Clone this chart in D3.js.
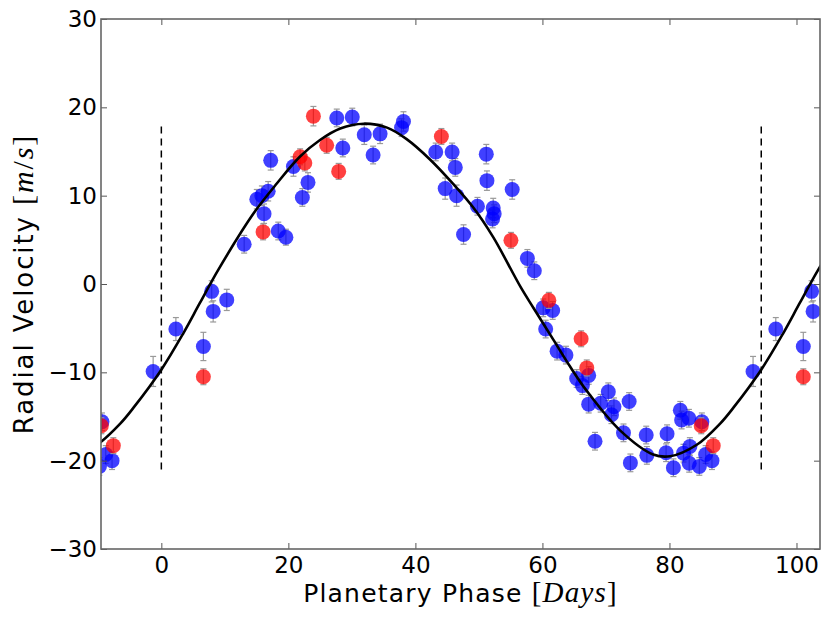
<!DOCTYPE html>
<html>
<head>
<meta charset="utf-8">
<script src="https://cdn.jsdelivr.net/npm/d3@7"></script>
<style>
  body { margin: 0; background: #fff; }
  svg text { font-family: "DejaVu Sans", sans-serif; }
</style>
</head>
<body>
<svg id="rv" width="830" height="621"></svg>
<script>
// orbital period used for folding (days)
const period = 94.45;

const xTicks = [0, 20, 40, 60, 80, 100];
const yTicks = [-30, -20, -10, 0, 10, 20, 30];

// blue points: [phase, rv, error]
const bluePts = [
  [2.29, -5.1, 1.3], [6.62, -7.07, 1.6], [7.93, -0.83, 1.2], [8.16, -3.1, 1.2],
  [10.30, -1.8, 1.2], [13.04, 4.5, 1.0], [15.03, 9.6, 1.1], [15.83, 10.0, 1.1],
  [16.82, 10.5, 1.1], [16.17, 7.96, 1.1], [17.22, 14.0, 1.1], [18.41, 6.0, 1.0],
  [19.61, 5.3, 0.9], [20.80, 13.3, 1.1], [22.20, 9.8, 1.0], [23.09, 11.5, 1.1],
  [27.62, 18.8, 1.0], [30.06, 18.9, 1.0], [28.57, 15.4, 1.0], [31.95, 16.9, 1.1],
  [34.44, 17.0, 1.1], [33.34, 14.6, 1.0], [38.12, 18.4, 1.1], [37.82, 17.7, 1.0],
  [43.20, 14.95, 1.0], [45.78, 14.95, 1.0], [46.28, 13.2, 1.0], [44.69, 10.8, 1.2],
  [46.48, 10.0, 1.2], [47.58, 5.6, 1.1], [49.77, 8.8, 1.0], [51.16, 14.7, 1.1],
  [51.26, 11.7, 1.1], [52.25, 8.6, 1.1], [52.40, 7.96, 1.0], [52.15, 7.36, 1.0],
  [55.24, 10.7, 1.1], [57.63, 2.9, 1.0], [58.72, 1.5, 1.0], [60.12, -2.7, 1.0],
  [61.61, -3.0, 1.0], [60.51, -5.1, 1.0], [62.31, -7.6, 1.0], [63.70, -8.05, 1.0],
  [67.28, -10.35, 1.0], [65.39, -10.7, 1.0], [66.29, -11.5, 1.0], [67.28, -13.6, 1.0],
  [68.28, -17.8, 1.0], [69.17, -13.5, 1.0], [70.37, -12.2, 1.0], [71.26, -13.9, 1.0],
  [70.87, -14.8, 1.0], [72.76, -16.85, 1.0], [73.65, -13.3, 1.0], [73.85, -20.25, 1.0],
  [76.34, -17.1, 1.0], [76.44, -19.4, 1.0], [79.62, -16.95, 1.0], [79.47, -19.1, 1.0],
  [80.62, -20.8, 1.0], [81.71, -14.3, 1.0], [81.91, -15.4, 1.0], [83.06, -15.2, 1.0],
  [82.21, -19.15, 1.0], [83.21, -18.4, 1.0], [83.11, -20.3, 1.0], [84.70, -20.65, 1.0],
  [85.10, -15.6, 1.0], [85.70, -19.3, 1.0], [86.69, -20.0, 1.0], [93.16, -9.9, 1.7]
];

// red points: [phase, rv, error]
const redPts = [
  [6.62, -10.5, 0.9], [16.02, 5.9, 0.9], [21.85, 14.4, 0.9], [22.59, 13.7, 0.9],
  [23.94, 19.0, 1.1], [26.03, 15.7, 0.9], [27.92, 12.75, 0.9], [44.09, 16.7, 0.9],
  [55.04, 4.94, 0.9], [61.01, -1.85, 0.9], [66.09, -6.2, 0.9], [66.98, -9.5, 0.9],
  [85.00, -16.05, 0.9], [86.89, -18.3, 0.9]
];

// model curve: [phase, rv]
const modelPts = [
  [0, -9.7], [3.48, -5.55], [6.07, -2.15], [8.96, 1.6], [14.53, 8.0], [18.21, 11.4],
  [21.80, 14.4], [24.98, 16.3], [28.17, 17.6], [31.85, 18.15], [35.53, 17.7],
  [38.62, 16.4], [42.30, 14.1], [45.98, 11.3], [49.17, 8.6], [52.25, 5.3],
  [56.53, -0.3], [58.62, -2.75], [61.71, -6.3], [64.40, -9.4], [66.98, -12.1],
  [72.26, -16.6], [77.43, -19.3], [80.12, -19.5], [84.30, -18.2], [87.98, -15.8],
  [90.07, -14.0]
];

// vertical dashed markers: phase 0 and one period later
const markerX = [0, period];
const markerY = [-21.0, 18.4];

const pLeft = 101, pRight = 820, pTop = 19, pBottom = 549;

const x = d3.scaleLinear().domain([-9.5, 103.7]).range([pLeft, pRight]);
const y = d3.scaleLinear().domain([-30, 30]).range([pBottom, pTop]);

const svg = d3.select("#rv");

svg.append("rect")
  .attr("width", 830).attr("height", 621).attr("fill", "#fff");

svg.append("clipPath").attr("id", "plotclip")
  .append("rect")
  .attr("x", pLeft).attr("y", pTop)
  .attr("width", pRight - pLeft).attr("height", pBottom - pTop);

// repeat folded points one period either side
const unfold = (pts) => {
  let out = [];
  for (const k of [-1, 0, 1]) {
    for (const p of pts) out.push([p[0] + k * period].concat(p.slice(1)));
  }
  return out;
};

const plot = svg.append("g").attr("clip-path", "url(#plotclip)");

// dashed markers
plot.selectAll("line.marker")
  .data(markerX)
  .enter().append("line")
  .attr("class", "marker")
  .attr("x1", d => x(d)).attr("x2", d => x(d))
  .attr("y1", y(markerY[0])).attr("y2", y(markerY[1]))
  .attr("stroke", "#000")
  .attr("stroke-width", 1.5)
  .attr("stroke-dasharray", "7,5");

const drawSeries = (pts, color) => {
  let g = plot.append("g");
  let data = unfold(pts);

  let eb = g.append("g").attr("stroke", "#999").attr("stroke-width", 1.2);
  eb.selectAll("line.bar").data(data).enter().append("line")
    .attr("class", "bar")
    .attr("x1", d => x(d[0])).attr("x2", d => x(d[0]))
    .attr("y1", d => y(d[1] - d[2])).attr("y2", d => y(d[1] + d[2]));
  for (const s of [-1, 1]) {
    eb.selectAll("line.cap" + (s + 1)).data(data).enter().append("line")
      .attr("class", "cap" + (s + 1))
      .attr("x1", d => x(d[0]) - 3).attr("x2", d => x(d[0]) + 3)
      .attr("y1", d => y(d[1] + s * d[2])).attr("y2", d => y(d[1] + s * d[2]));
  }

  g.selectAll("circle").data(data).enter().append("circle")
    .attr("cx", d => x(d[0]))
    .attr("cy", d => y(d[1]))
    .attr("r", 7.5)
    .attr("fill", color)
    .attr("fill-opacity", 0.75);
};

drawSeries(bluePts, "#0000ff");
drawSeries(redPts, "#ff0000");

// model curve
let curve = unfold(modelPts).concat([[2 * period, modelPts[0][1]]]);
curve.sort((a, b) => a[0] - b[0]);
plot.append("path")
  .datum(curve)
  .attr("fill", "none")
  .attr("stroke", "#000")
  .attr("stroke-width", 2.6)
  .attr("d", d3.line().x(d => x(d[0])).y(d => y(d[1])).curve(d3.curveCatmullRom));

// axes, ticks pointing inward
const fmt = d => d3.format("")(d);
const styleAxis = (g) => {
  g.select(".domain").remove();
  g.selectAll(".tick line").attr("stroke", "#555");
  g.selectAll("text").attr("fill", "#000").attr("font-family", "DejaVu Sans").style("font-size", "23px");
};

svg.append("g").attr("transform", `translate(0,${pBottom})`)
  .call(d3.axisBottom(x).tickValues(xTicks).tickSize(-6).tickPadding(8).tickFormat(fmt))
  .call(styleAxis);
svg.append("g").attr("transform", `translate(0,${pTop})`)
  .call(d3.axisTop(x).tickValues(xTicks).tickSize(-6).tickFormat(""))
  .call(styleAxis);
svg.append("g").attr("transform", `translate(${pLeft},0)`)
  .call(d3.axisLeft(y).tickValues(yTicks).tickSize(-6).tickPadding(4).tickFormat(fmt))
  .call(styleAxis);
svg.append("g").attr("transform", `translate(${pRight},0)`)
  .call(d3.axisRight(y).tickValues(yTicks).tickSize(-6).tickFormat(""))
  .call(styleAxis);

// frame
svg.append("rect")
  .attr("x", pLeft).attr("y", pTop)
  .attr("width", pRight - pLeft).attr("height", pBottom - pTop)
  .attr("fill", "none")
  .attr("stroke", "#666")
  .attr("stroke-width", 1.6);

// axis titles
const serif = "'Liberation Serif', serif";
let xt = svg.append("text")
  .attr("x", (pLeft + pRight) / 2).attr("y", 602)
  .attr("text-anchor", "middle")
  .style("font-size", "25px")
  .style("letter-spacing", "1.2px");
xt.append("tspan").text("Planetary Phase ");
xt.append("tspan").style("font-family", serif).style("font-size", "29px").text("[");
xt.append("tspan").style("font-family", serif).style("font-size", "29px").style("font-style", "italic").text("Days");
xt.append("tspan").style("font-family", serif).style("font-size", "29px").text("]");

let yt = svg.append("text")
  .attr("transform", `translate(33,${(pTop + pBottom) / 2}) rotate(-90)`)
  .attr("text-anchor", "middle")
  .style("font-size", "26px")
  .style("letter-spacing", "1.9px");
yt.append("tspan").text("Radial Velocity ");
yt.append("tspan").style("font-family", serif).style("font-size", "30px").text("[");
yt.append("tspan").style("font-family", serif).style("font-size", "30px").style("font-style", "italic").text("m");
yt.append("tspan").style("font-family", serif).style("font-size", "30px").text("/");
yt.append("tspan").style("font-family", serif).style("font-size", "30px").style("font-style", "italic").text("s");
yt.append("tspan").style("font-family", serif).style("font-size", "30px").text("]");
</script>
</body>
</html>
